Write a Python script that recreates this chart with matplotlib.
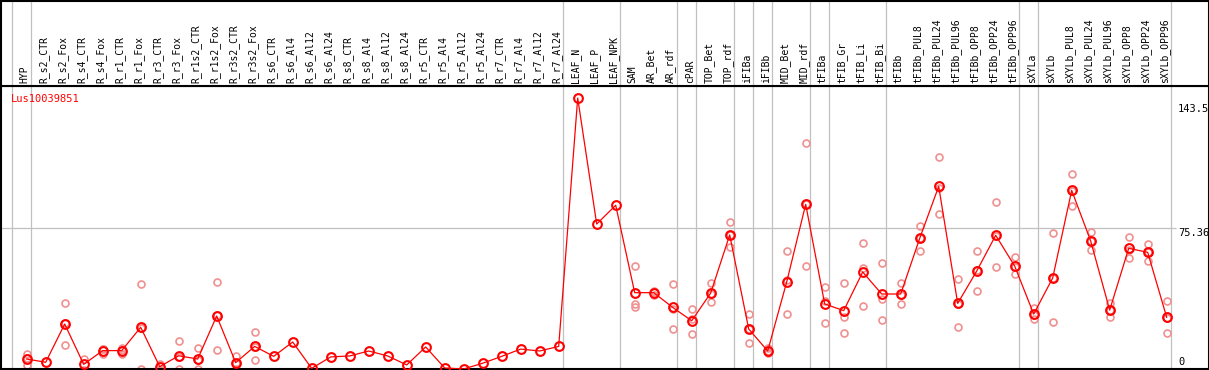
import matplotlib
matplotlib.use("Agg")
import matplotlib.pyplot as plt
import matplotlib.transforms as mtransforms

# sample columns, left to right
samples = ["HYP",
           "R_s2_CTR", "R_s2_Fox", "R_s4_CTR", "R_s4_Fox", "R_r1_CTR", "R_r1_Fox",
           "R_r3_CTR", "R_r3_Fox", "R_r1s2_CTR", "R_r1s2_Fox", "R_r3s2_CTR", "R_r3s2_Fox",
           "R_s6_CTR", "R_s6_Al4", "R_s6_Al12", "R_s6_Al24",
           "R_s8_CTR", "R_s8_Al4", "R_s8_Al12", "R_s8_Al24",
           "R_r5_CTR", "R_r5_Al4", "R_r5_Al12", "R_r5_Al24",
           "R_r7_CTR", "R_r7_Al4", "R_r7_Al12", "R_r7_Al24",
           "LEAF_N", "LEAF_P", "LEAF_NPK",
           "SAM", "AR_Bet", "AR_rdf", "cPAR", "TOP_Bet", "TOP_rdf", "iFIBa", "iFIBb",
           "MID_Bet", "MID_rdf", "tFIBa", "tFIB_Gr", "tFIB_Li", "tFIB_Bi",
           "tFIBb", "tFIBb_PUL8", "tFIBb_PUL24", "tFIBb_PUL96", "tFIBb_OPP8", "tFIBb_OPP24", "tFIBb_OPP96",
           "sXYLa", "sXYLb", "sXYLb_PUL8", "sXYLb_PUL24", "sXYLb_PUL96", "sXYLb_OPP8", "sXYLb_OPP24", "sXYLb_OPP96"]

# number of columns in each tissue group (separated by grey lines)
group_sizes = [1, 28, 3, 3, 1, 2, 1, 1, 2, 1, 3, 7, 1, 7]

# mean expression per column
means = [7.0, 5.3, 25.3, 4.2, 11.4, 11.4, 23.6, 3.0, 8.7, 7.0, 29.5, 5.1, 13.6,
         8.4, 15.9, 2.1, 8.1, 8.6, 11.2, 8.6, 3.9, 13.3, 2.3, 1.8, 4.8, 8.4, 12.2, 11.2, 13.6,
         143.5, 77.6, 87.4,
         41.7, 41.7, 34.0, 27.0, 41.5, 71.9, 22.7, 11.2, 47.3, 87.9, 35.8, 32.3, 52.5, 41.0,
         41.0, 70.1, 97.3, 36.1, 53.0, 71.7, 55.6,
         30.5, 49.4, 95.2, 68.7, 32.6, 64.9, 62.8, 28.8]

# individual replicates per column
replicates = [[9.6, 7.5, 4.0], [], [36.1, 25.6, 14.2], [7.0, 1.3], [12.2, 9.6, 12.4],
              [12.9, 9.5, 11.8], [46.1, 23.0, 1.8], [4.5, 1.5], [16.4, 8.0, 1.8],
              [12.6, 6.6, 1.8], [47.1, 29.8, 11.6], [8.6, 5.0, 1.8], [21.0, 13.5, 6.3],
              [], [], [], [], [], [], [], [], [], [], [], [], [], [], [], [],
              [], [], [],
              [55.6, 35.6, 34.4], [42.7, 40.3, 42.1], [46.2, 33.1, 22.7], [33.2, 28.0, 19.9],
              [46.8, 41.0, 36.7], [78.5, 71.8, 65.4], [30.4, 22.5, 15.2], [12.6, 11.0, 10.0],
              [63.3, 48.2, 30.4], [119.8, 88.3, 55.6], [44.5, 37.3, 25.8], [46.8, 29.1, 20.6],
              [67.7, 54.8, 34.6], [57.2, 38.4, 27.4],
              [46.8, 40.5, 35.8], [76.6, 70.4, 63.3], [112.5, 96.7, 82.7], [48.7, 36.0, 23.6],
              [63.3, 53.3, 42.4], [89.0, 71.1, 55.0], [60.2, 55.3, 51.3],
              [33.7, 30.0, 27.8],
              [72.7, 49.3, 26.2], [103.6, 95.1, 86.9], [73.3, 68.9, 63.9], [36.5, 32.5, 28.8],
              [70.8, 64.2, 59.7], [67.2, 63.1, 58.1], [37.3, 28.7, 20.4]]

gene = "Lus10039851"
yticks = [143.5, 75.36, 0]
ytick_labels = ["143.5", "75.36", "0"]

W, H = 1209, 370
fig = plt.figure(figsize=(W / 100, H / 100), dpi=100)
mono = "DejaVu Sans Mono"

# pixel layout
header_px = 86
x0_px, dx_px = 26.7, 19.0          # first column position, column pitch
zero_px, unit_px = 372.4, 1.912    # pixel row of value 0, pixels per unit
left_px, right_px, bot_px = 0.5, 1208.5, 369.0

ax = fig.add_axes([left_px / W, (H - bot_px) / H, (right_px - left_px) / W, (bot_px - header_px) / H])
hx = fig.add_axes([left_px / W, (H - header_px) / H, (right_px - left_px) / W, (header_px - 0.5) / H])

xlim = ((left_px - x0_px) / dx_px, (right_px - x0_px) / dx_px)
ax.set_xlim(*xlim)
ax.set_ylim((zero_px - bot_px) / unit_px, (zero_px - header_px) / unit_px)
hx.set_xlim(*xlim)
hx.set_ylim(0, 1)

for a in (ax, hx):
    a.set_xticks([]); a.set_yticks([])
    for s in a.spines.values():
        s.set_color("black"); s.set_linewidth(1.5)

# group separators
x = list(range(len(samples)))
seps = [-1]
c = 0
for g in group_sizes:
    c += g
    seps.append(c - 1)
for s in seps:
    for a in (ax, hx):
        a.axvline(s + 0.21, color="#c0c0c0", lw=0.9, zorder=0)

ax.hlines(yticks[1], xlim[0], 60.5, color="#c0c0c0", lw=0.9, zorder=0)

# replicates
for i, reps in enumerate(replicates):
    if reps:
        ax.plot([i] * len(reps), reps, "o", ms=5, mfc="none", mec="#f09090", mew=1.2, zorder=2)

ax.plot(x, means, "-", color="red", lw=0.9, zorder=3)
ax.plot(x, means, "o", ms=6.3, mfc="none", mec="red", mew=1.5, zorder=4)

# column labels
trans = mtransforms.blended_transform_factory(hx.transData, hx.transAxes)
for i, lab in enumerate(samples):
    hx.text(i - 0.1, 0.03, lab, rotation=90, ha="center", va="bottom",
            fontsize=7, family=mono, transform=trans)

ax.text(10 / (right_px - left_px), 0.954, gene, color="red", fontsize=7.5, family=mono,
        ha="left", va="center", transform=ax.transAxes)

# value labels on the right
offs = [-4, 0, 4]
vas = ["top", "top", "bottom"]
for v, lab, o, va in zip(yticks, ytick_labels, offs, vas):
    ax.annotate(lab, xy=(60.6, v), xytext=(0, o), textcoords="offset points",
                ha="left", va=va, fontsize=7.5, family=mono, annotation_clip=False)

fig.savefig("out.png", dpi=100)
